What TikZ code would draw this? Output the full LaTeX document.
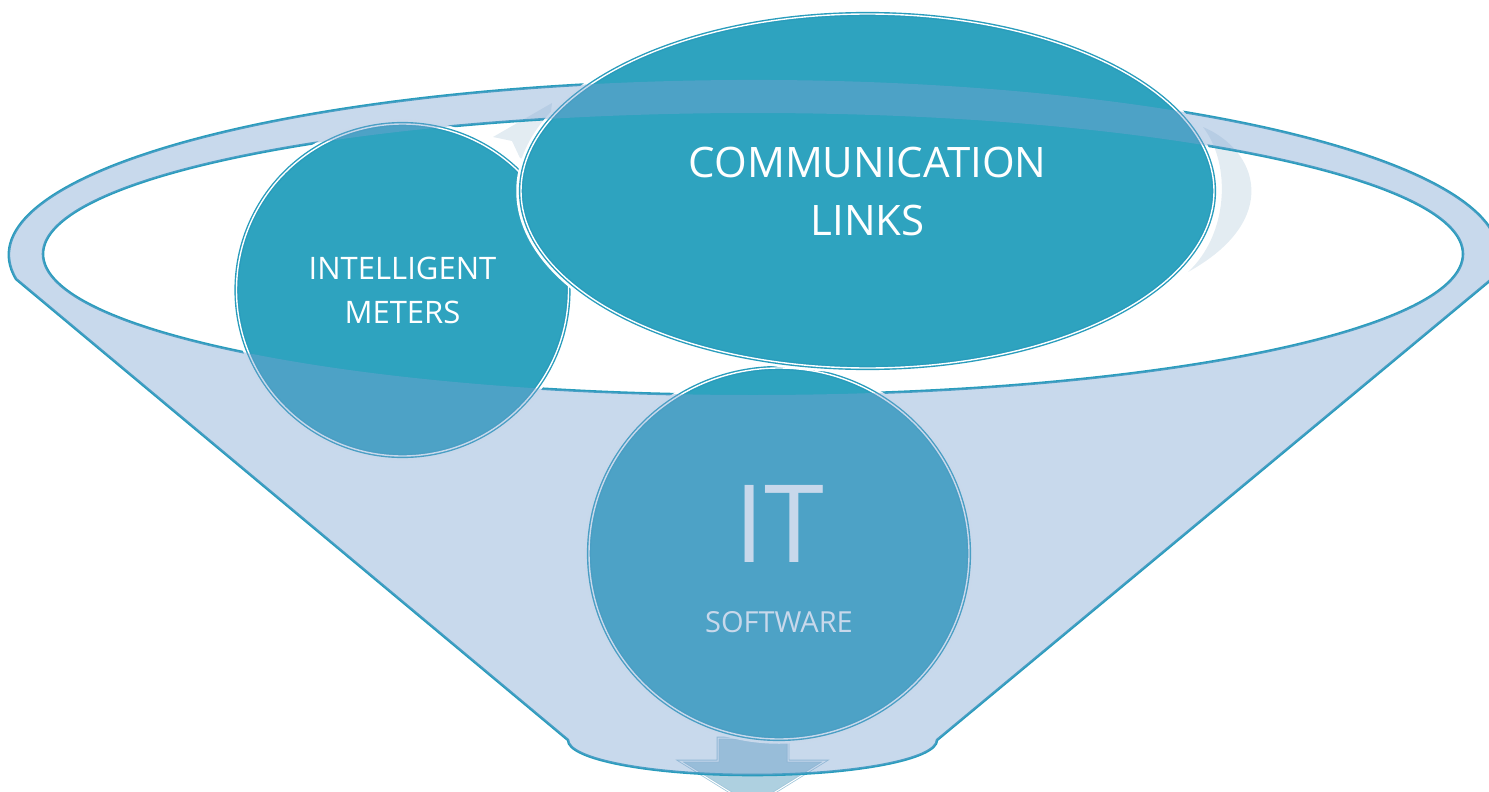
\documentclass[tikz,border=0pt]{standalone}
\usepackage{fontspec}
\setmainfont{Open Sans}
\usetikzlibrary{shapes.geometric,positioning}

\definecolor{tealfill}{RGB}{46,163,191}
\definecolor{tealline}{RGB}{40,156,188}
\definecolor{funnelblue}{RGB}{122,162,208}
\definecolor{haze}{RGB}{227,236,242}
\definecolor{arrowblue}{RGB}{174,208,224}
\definecolor{arrowedge}{RGB}{160,198,218}

\tikzstyle{bubble} = [ellipse, inner sep=0pt, fill=tealfill, draw=tealline, line width=4.2pt, preaction={draw=white, line width=9.5pt}, postaction={draw=white, line width=1.4pt}, text=white, align=center]
\tikzstyle{caption} = [inner sep=0pt, text=white, align=center]
\tikzstyle{rim} = [draw=tealline, line width=2.6pt, line join=round]

\newcommand{\funnelpath}{(16,279) arc[start angle=187.9, end angle=-7.9, x radius=745pt, y radius=175pt] -- (937,740) arc[start angle=0, end angle=-180, x radius=184.5pt, y radius=35pt] -- cycle (753,254) ellipse [x radius=710pt, y radius=141pt]}

\begin{document}
\begin{tikzpicture}[x=1pt, y=-1pt]
        \useasboundingbox (0,0) rectangle (1489,792);
        % output arrow
        \draw[fill=arrowblue, draw=arrowedge, line width=2.6pt, postaction={draw=white, line width=1pt}] (718,738) -- (718,761) -- (680,761) -- (752.5,806) -- (825,761) -- (788,761) -- (788,738) -- cycle;
        % circular arrows
        \fill[haze] (1203,127) .. controls (1258,150) and (1282,220) .. (1188,272) .. controls (1228,235) and (1232,165) .. (1203,127) -- cycle;
        \fill[haze] (493,137) -- (552,103) -- (545,165) -- (520,158) -- (512,141) -- cycle;
        % funnel outline
        \path[rim] \funnelpath;
        % circles
        \node[bubble, minimum width=332pt, minimum height=332pt, font=\fontsize{31}{44}\selectfont] (meters) at (402.5,290) {INTELLIGENT\\METERS};
        \node[bubble, minimum width=380pt, minimum height=371pt] (software) at (779,553.5) {};
        \node[caption, font=\fontsize{108}{108}\selectfont] (itword) at ([yshift=30pt]software.center) {IT};
        \node[caption, font=\fontsize{29}{29}\selectfont] (softword) at ([yshift=-68.5pt]software.center) {SOFTWARE};
        \node[bubble, minimum width=693pt, minimum height=354pt, font=\fontsize{42}{58}\selectfont] (links) at (867.5,191) {COMMUNICATION\\LINKS};
        % funnel body
        \path[fill=funnelblue, fill opacity=0.41, even odd rule] \funnelpath;
\end{tikzpicture}
\end{document}
